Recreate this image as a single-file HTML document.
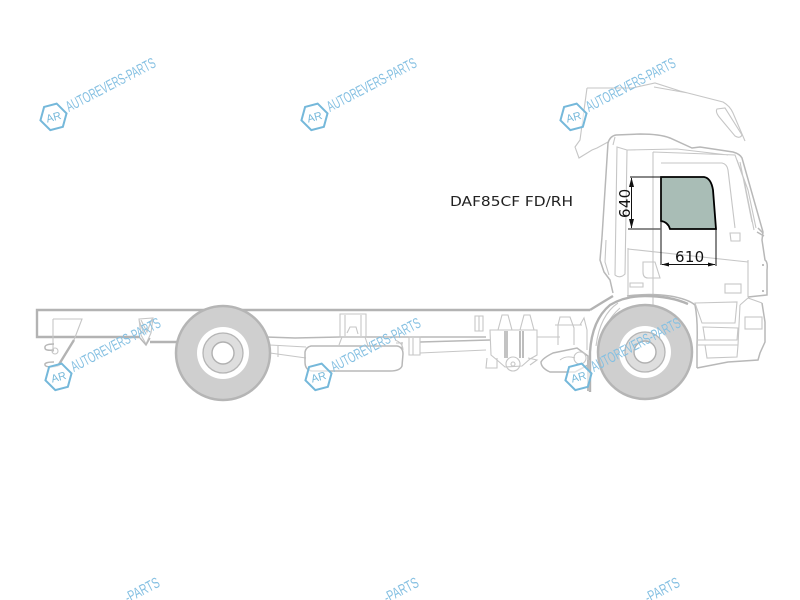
<!DOCTYPE html>
<html><head><meta charset="utf-8"><style>
html,body{margin:0;padding:0;background:#fff;width:800px;height:600px;overflow:hidden}
svg{display:block;overflow:hidden}
text{font-family:"DejaVu Sans","Liberation Sans",sans-serif}
.t{fill:none;stroke:#c6c6c6;stroke-width:1.1}
.m{fill:none;stroke:#b8b8b8;stroke-width:1.5}
.k{fill:none;stroke:#b3b3b3;stroke-width:2.4}
.wm{font-family:"Liberation Sans",sans-serif;font-size:15px;fill:#85c0e2}
.ar{font-family:"Liberation Sans",sans-serif;font-size:11px;fill:#74b8da}
</style></head><body>
<svg width="800" height="600" viewBox="0 0 800 600" xmlns="http://www.w3.org/2000/svg">
<defs>
<filter id="b" x="-10%" y="-10%" width="120%" height="120%"><feGaussianBlur stdDeviation="0.35"/></filter>
<g id="w">
<path d="M-6,-12 L7,-12 L14,0 L7,12 L-6,12 L-13,0 Z" transform="rotate(-15)" fill="#fff" fill-opacity=".6" stroke="#74b8da" stroke-width="2"/>
<text class="ar" x="-7" y="4" textLength="15" lengthAdjust="spacingAndGlyphs" transform="rotate(-15)">AR</text>
<text class="wm" x="0" y="0" textLength="99" lengthAdjust="spacingAndGlyphs" transform="translate(16,-5) rotate(-27.5)">AUTOREVERS-PARTS</text>
</g>
</defs>

<g filter="url(#b)">
<!-- roof deflector -->
<path class="t" d="M587,88 L632,88 M632,88 L655,83 L680,91 L723,102 Q730,106 733,113 L745,141 M654,87 L688,93 M587,88 L580,140 L575,147 L579,158 L592,150 L597,148 L608,142"/>
<path class="t" d="M717,109 L725,108 L742,135 Q740,139 735,136 L720,118 Q715,112 717,109 Z"/>

<!-- cab -->
<path class="m" d="M602,237 L608,143 Q610,136 616,135 L640,134 Q660,134 670,138 L692,148 L700,147 L733,152 Q740,154 742,158 L763,232 L762,240 L765,260 Q768,262 767,270 L767,295 L748,297"/>
<path class="t" d="M617,147 L627,150 L625,274 Q620,279 615,275 Z M613,145 L615,137 M627,150 L677,149 L728,155 M653,152 L653,310 M653,152 L735,155 L744,180 L754,230 M661,163 L722,163 Q727,164 728,170 L735,228 M737,160 L748,190 L756,228 M740,162 L752,222"/>
<path class="m" d="M602,237 L600,260 L604,272 L610,280 L613,293"/>
<path class="t" d="M606,240 L605,262 L609,275 M628,248 L628,295 M628,249 L748,262 M748,260 L748,297"/>
<path class="t" d="M643,262 L655,262 L660,278 L648,278 Q643,278 643,272 Z M630,283 L643,283 L643,287 L630,287 Z"/>
<rect class="t" x="725" y="284" width="16" height="9"/>
<path class="t" d="M730,233 L740,233 L740,241 L731,241 Z"/>
<circle cx="763" cy="265" r="1" fill="#aaa"/><circle cx="763" cy="291" r="1" fill="#aaa"/>
<path class="m" d="M757,232 L764,236 M758,228 L763,233"/>
<path class="m" d="M627,296 Q650,293 670,296 Q688,299 695,305 Q698,320 697,345 L697,368"/>
<path class="t" d="M695,303 L737,302 L735,323 L702,323 Z M703,327 L738,328 L737,340 L705,340 Z M697,345 L738,345 L737,357 L707,358 L705,345 M697,340 L737,340 M740,305 L748,298 L762,303 M740,305 L738,345"/>
<rect class="t" x="745" y="317" width="17" height="12"/>
<path class="m" d="M697,368 L728,362 L758,360 L760,353 L765,342 L765,322 L762,303"/>

<!-- front wheel arch -->
<path class="k" d="M590,392 L590,352 Q592,320 610,305 Q625,296 645,296 Q670,296 688,304"/>
<path class="t" d="M596,346 Q600,315 618,303 M600,345 Q604,322 620,308"/>
<path class="k" d="M590,310 L603,302 L613,296"/>

<!-- frame -->
<path class="k" d="M590,310 L37,310 L37,337 L140,337"/>
<path class="k" d="M150,342 L180,342"/>
<path class="m" d="M266,337 L295,338 L340,337 L486,337"/>
<path class="t" d="M537,337 L560,337"/>

<!-- rear tail -->
<path class="t" d="M53,319 L82,319 L74,340"/>
<path class="t" d="M53,319 L53,352"/>
<path class="k" d="M74,340 L58,366"/>
<path class="m" d="M54,344 Q44,344 45,348 Q45,351 54,350 M54,362 Q44,362 45,365 Q46,368 58,366"/>
<circle class="t" cx="55" cy="351" r="3"/>
<!-- hanger -->
<path class="t" d="M139,319 L153,318 L151,333 L146,344 L141,335 Z M141,320 L147,332 L152,319 M139,320 L144,334"/>
<path class="m" d="M140,338 L146,345 L150,338"/>

<!-- propshaft -->
<path class="t" d="M270,345 L306,347 M270,353 L306,358 M270,344 L270,358 M278,346 L278,357"/>
<path class="m" d="M420,342 L490,340"/>
<path class="t" d="M420,353 L486,350 M409,337 L420,337 L420,355 L409,355 Z M413,338 L413,355 M402,342 L402,350"/>

<!-- tank -->
<path class="m" d="M311,346 L397,346 Q403,347 403,354 L402,366 Q400,371 390,371 L312,371 Q305,370 305,362 L305,352 Q306,347 311,346 Z"/>
<path class="t" d="M340,314 L366,314 L366,337 L340,337 Z M345,315 L345,336 M361,315 L361,336 M347,333 L350,327 L356,327 L358,334 M339,345 L342,337 M368,346 L365,337"/>
<path class="t" d="M395,340 Q403,343 403,350 M396,343 L403,343"/>

<!-- suspension -->
<path class="t" d="M475,316 L483,316 L483,331 L475,331 Z M479,316 L479,331"/>
<path class="t" d="M498,330 L502,315 L508,315 L512,330 M520,330 L524,315 L530,315 L534,330 M490,330 L537,330 L537,355 L530,359 L522,366 L505,367 L497,360 L491,355 Z M487,358 L486,368 L497,368 L497,358"/>
<path d="M505,331 L505,358 M507,331 L507,358" stroke="#c3c3c3" stroke-width="2" fill="none"/>
<path d="M520,331 L520,358 M523,331 L523,358" stroke="#bdbdbd" stroke-width="2" fill="none"/>
<circle class="t" cx="513" cy="364" r="7"/><circle class="t" cx="513" cy="364" r="2"/>
<path class="t" d="M528,358 L537,360 L530,365"/>
<path class="m" d="M550,372 Q541,368 541,362 Q543,358 553,353 L577,348 L588,356 L588,365 L575,372 Z"/>
<path class="t" d="M558,325 L558,345 M558,325 L560,317 L570,317 L574,328 L574,345 M580,325 L584,318 L587,330 L587,350 M560,360 Q566,355 575,358 M555,325 L582,325"/>
<circle class="t" cx="580" cy="358" r="6"/>
<path d="M587,360 L590,360 L590,391 L587,391 Z" fill="#bdbdbd"/>

<!-- wheels -->
<circle cx="223" cy="353" r="47" fill="#cfcfcf" stroke="#b5b5b5" stroke-width="2.5"/>
<circle cx="223" cy="353" r="26" fill="#fff"/>
<circle cx="223" cy="353" r="20" fill="#dedede" stroke="#b5b5b5" stroke-width="1.3"/>
<circle cx="223" cy="353" r="11" fill="#fff" stroke="#b0b0b0" stroke-width="1.4"/>
<circle cx="645" cy="352" r="47" fill="#cfcfcf" stroke="#b5b5b5" stroke-width="2.5"/>
<circle cx="645" cy="352" r="26" fill="#fff"/>
<circle cx="645" cy="352" r="20" fill="#dedede" stroke="#b5b5b5" stroke-width="1.3"/>
<circle cx="645" cy="352" r="11" fill="#fff" stroke="#b0b0b0" stroke-width="1.4"/>
</g>

<!-- glass -->
<path d="M661,177 L704,177 Q711,178 713,190 L716,229 L670,229 Q668,222 661,221 Z" fill="#a9bdb6" stroke="#000" stroke-width="1.8"/>
<path d="M661,177 L661,265" stroke="#111" stroke-width="1" fill="none"/>
<path d="M716,229 L716,266" stroke="#111" stroke-width="1" fill="none"/>
<path d="M630,177 L661,177" stroke="#111" stroke-width="1"/>
<path d="M628,229 L661,229" stroke="#666" stroke-width="1.4"/>
<path d="M631.500,178 L631.500,228" stroke="#111" stroke-width="1"/>
<path d="M631.500,177.500 L629,187 L634,187 Z M631.500,228.500 L629,219 L634,219 Z" fill="#111"/>
<path d="M662,264.500 L715,264.500" stroke="#111" stroke-width="1"/>
<path d="M661.500,264.500 L669,262.500 L669,266.500 Z M715.500,264.500 L708,262.500 L708,266.500 Z" fill="#111"/>
<text x="675" y="262" font-size="15" fill="#111" letter-spacing=".3">610</text>
<text transform="translate(630,218) rotate(-90)" font-size="15" fill="#111" letter-spacing=".3">640</text>
<text x="450" y="206" font-size="13.500" fill="#222" textLength="123" lengthAdjust="spacingAndGlyphs">DAF85CF FD/RH</text>

<!-- watermarks -->
<g filter="url(#b)">
<use href="#w" x="53" y="117"/>
<use href="#w" x="314" y="117"/>
<use href="#w" x="573" y="117"/>
<use href="#w" x="58" y="377"/>
<use href="#w" x="318" y="377"/>
<use href="#w" x="578" y="377"/>
<text class="wm" textLength="37" lengthAdjust="spacingAndGlyphs" transform="translate(128,603) rotate(-27.5)">-PARTS</text>
<text class="wm" textLength="37" lengthAdjust="spacingAndGlyphs" transform="translate(387,603) rotate(-27.5)">-PARTS</text>
<text class="wm" textLength="37" lengthAdjust="spacingAndGlyphs" transform="translate(648,603) rotate(-27.5)">-PARTS</text>
</g>
</svg>
</body></html>
